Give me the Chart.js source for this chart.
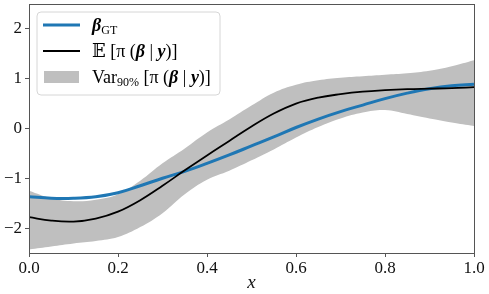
<!DOCTYPE html>
<html>
<head>
<meta charset="utf-8">
<script src="https://cdn.jsdelivr.net/npm/chart.js@4"></script>
<style>
  html, body { margin: 0; padding: 0; background: #fff; }
  #wrap { width: 489px; height: 294px; }
</style>
</head>
<body>
<div id="wrap"><canvas id="posteriorChart" width="489" height="294"></canvas></div>
<script>
const xs = [0, 0.05, 0.1, 0.15, 0.2, 0.25, 0.3, 0.35, 0.4, 0.45, 0.5, 0.55, 0.6, 0.65, 0.7, 0.75, 0.8, 0.85, 0.9, 0.95, 1.0];
const betaGT = [-1.37, -1.40, -1.40, -1.37, -1.29, -1.15, -1.00, -0.86, -0.70, -0.53, -0.35, -0.17, 0.02, 0.19, 0.34, 0.47, 0.60, 0.71, 0.80, 0.86, 0.89];
const postMean = [-1.78, -1.85, -1.87, -1.81, -1.67, -1.44, -1.15, -0.84, -0.54, -0.25, 0.04, 0.30, 0.50, 0.62, 0.69, 0.74, 0.77, 0.79, 0.80, 0.81, 0.83];
const band90Upper = [-1.25, -1.40, -1.46, -1.43, -1.32, -1.05, -0.70, -0.40, -0.08, 0.18, 0.46, 0.72, 0.88, 0.97, 1.02, 1.05, 1.08, 1.11, 1.16, 1.25, 1.37];
const band90Lower = [-2.43, -2.37, -2.31, -2.26, -2.18, -1.98, -1.70, -1.32, -1.03, -0.85, -0.64, -0.42, -0.18, 0.03, 0.20, 0.32, 0.37, 0.29, 0.20, 0.12, 0.05];
const xTicks = [0, 0.2, 0.4, 0.6, 0.8, 1.0];
const yTicks = [-2, -1, 0, 1, 2];

const SERIF = '"Liberation Serif", "DejaVu Serif", serif';
const pts = ys => xs.map((x, i) => ({ x: x, y: ys[i] }));

// legend entries as pieces of rich text (matplotlib mathtext look)
const legendRows = [
  { kind: "line", color: "#1f77b4", width: 3, parts: [["β", "bi"], ["GT", "sub"]] },
  { kind: "line", color: "#000", width: 1.8, parts: [["𝔼", "r"], [" [π (", "r"], ["β", "bi"], [" | ", "r"], ["y", "bi"], [")]", "r"]] },
  { kind: "box", color: "#bfbfbf", parts: [["Var", "r"], ["90%", "sub"], [" [π (", "r"], ["β", "bi"], [" | ", "r"], ["y", "bi"], [")]", "r"]] }
];

function partFont(style) {
  if (style === "bi") return "italic bold 18px " + SERIF;
  if (style === "sub") return "12px " + SERIF;
  return "18px " + SERIF;
}

const frameAndLegend = {
  id: "frameAndLegend",
  afterDraw(chart) {
    const ctx = chart.ctx;
    const a = chart.chartArea;
    ctx.save();
    // four spines
    ctx.strokeStyle = "#555";
    ctx.lineWidth = 1;
    ctx.strokeRect(Math.round(a.left) + 0.5, Math.round(a.top) + 0.5, Math.round(a.right - a.left), Math.round(a.bottom - a.top));

    // legend box
    const bx = a.left + 8, by = a.top + 8, bw = 183, bh = 83, r = 4;
    ctx.beginPath();
    ctx.moveTo(bx + r, by);
    ctx.arcTo(bx + bw, by, bx + bw, by + bh, r);
    ctx.arcTo(bx + bw, by + bh, bx, by + bh, r);
    ctx.arcTo(bx, by + bh, bx, by, r);
    ctx.arcTo(bx, by, bx + bw, by, r);
    ctx.closePath();
    ctx.fillStyle = "rgba(255,255,255,0.8)";
    ctx.fill();
    ctx.strokeStyle = "#d6d6d6";
    ctx.stroke();

    legendRows.forEach((row, i) => {
      const cy = by + 13 + i * 26;
      if (row.kind === "line") {
        ctx.strokeStyle = row.color;
        ctx.lineWidth = row.width;
        ctx.beginPath();
        ctx.moveTo(bx + 6, cy);
        ctx.lineTo(bx + 43, cy);
        ctx.stroke();
      } else {
        ctx.fillStyle = row.color;
        ctx.fillRect(bx + 7, cy - 6, 35, 12);
      }
      let tx = bx + 55;
      ctx.fillStyle = "#000";
      ctx.textBaseline = "alphabetic";
      row.parts.forEach(([t, s]) => {
        ctx.font = partFont(s);
        const base = s === "sub" ? cy + 9 : cy + 6;
        ctx.fillText(t, tx, base);
        tx += ctx.measureText(t).width;
      });
    });
    ctx.restore();
  }
};

new Chart(document.getElementById("posteriorChart"), {
  type: "line",
  data: {
    datasets: [
      {
        label: "E[π(β|y)]",
        data: pts(postMean),
        borderColor: "#000",
        borderWidth: 1.8,
        pointRadius: 0,
        fill: false,
        tension: 0.4,
        order: 0
      },
      {
        label: "β_GT",
        data: pts(betaGT),
        borderColor: "#1f77b4",
        borderWidth: 3,
        pointRadius: 0,
        fill: false,
        tension: 0.4,
        order: 1
      },
      {
        label: "Var90% upper",
        data: pts(band90Upper),
        borderWidth: 0,
        borderColor: "rgba(0,0,0,0)",
        backgroundColor: "#bfbfbf",
        pointRadius: 0,
        fill: "+1",
        tension: 0.4,
        order: 2
      },
      {
        label: "Var90% lower",
        data: pts(band90Lower),
        borderWidth: 0,
        borderColor: "rgba(0,0,0,0)",
        pointRadius: 0,
        fill: false,
        tension: 0.4,
        order: 3
      }
    ]
  },
  options: {
    responsive: false,
    animation: false,
    devicePixelRatio: 1,
    layout: { padding: { top: 4, right: 15, left: 0, bottom: 0 } },
    plugins: {
      legend: { display: false },
      tooltip: { enabled: false },
      title: { display: false }
    },
    scales: {
      x: {
        type: "linear",
        min: 0,
        max: 1,
        afterBuildTicks: s => { s.ticks = xTicks.map(v => ({ value: v })); },
        afterFit: s => { s.height = 41; s.paddingLeft = 0; s.paddingRight = 0; },
        ticks: {
          color: "#111",
          font: { family: SERIF, size: 17 },
          padding: 1,
          maxRotation: 0,
          callback: v => v.toFixed(1)
        },
        grid: { drawOnChartArea: false, tickLength: 4, color: "#555", tickColor: "#555" },
        border: { display: false },
        title: {
          display: true,
          text: "x",
          color: "#111",
          font: { family: SERIF, size: 19, style: "italic" },
          padding: { top: 0, bottom: 0 }
        }
      },
      y: {
        min: -2.5,
        max: 2.5,
        afterBuildTicks: s => { s.ticks = yTicks.map(v => ({ value: v })); },
        afterFit: s => { s.width = 29; s.paddingTop = 0; s.paddingBottom = 0; },
        ticks: {
          color: "#111",
          font: { family: SERIF, size: 17 },
          padding: 3,
          callback: v => String(v).replace("-", "\u2212")
        },
        grid: { drawOnChartArea: false, tickLength: 4, color: "#555", tickColor: "#555" },
        border: { display: false }
      }
    }
  },
  plugins: [frameAndLegend]
});
</script>
</body>
</html>
